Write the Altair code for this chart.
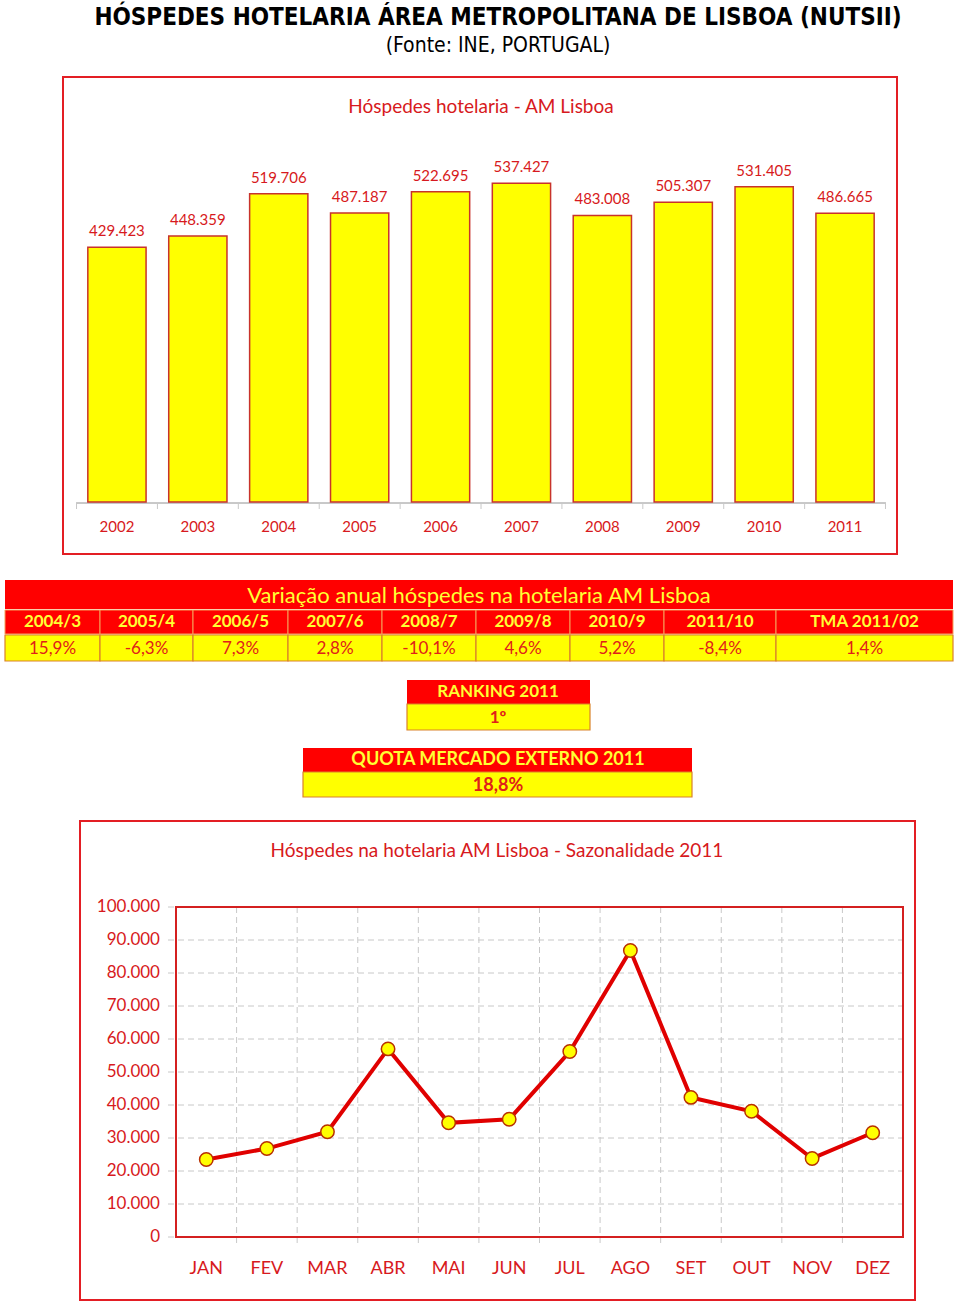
import altair as alt
import pandas as pd

# ---------------- data ----------------
years = ["2002", "2003", "2004", "2005", "2006", "2007", "2008", "2009", "2010", "2011"]
guests = [429423, 448359, 519706, 487187, 522695, 537427, 483008, 505307, 531405, 486665]

var_labels = ["2004/3", "2005/4", "2006/5", "2007/6", "2008/7", "2009/8", "2010/9", "2011/10", "TMA 2011/02"]
var_values = [15.9, -6.3, 7.3, 2.8, -10.1, 4.6, 5.2, -8.4, 1.4]

ranking_label = "RANKING 2011"
ranking_value = "1º"
quota_label = "QUOTA MERCADO EXTERNO 2011"
quota_value = 18.8

months = ["JAN", "FEV", "MAR", "ABR", "MAI", "JUN", "JUL", "AGO", "SET", "OUT", "NOV", "DEZ"]
monthly = [23500, 26800, 31900, 57000, 34600, 35700, 56200, 86800, 42300, 38100, 23800, 31600]
y_ticks = [0, 10000, 20000, 30000, 40000, 50000, 60000, 70000, 80000, 90000, 100000]

main_title = "HÓSPEDES HOTELARIA ÁREA METROPOLITANA DE LISBOA (NUTSII)"
sub_title = "(Fonte: INE, PORTUGAL)"
bar_title = "Hóspedes hotelaria - AM Lisboa"
table_title = "Variação anual hóspedes na hotelaria AM Lisboa"
line_title = "Hóspedes na hotelaria AM Lisboa - Sazonalidade 2011"

# ---------------- layout / style ----------------
col_widths = [95, 93, 95, 94, 94, 94, 94, 112, 177]
table_left = 5

FONT = "Lato"
NARROW = "Liberation Sans Narrow, DejaVu Sans Condensed, sans-serif"
RED = "#ff0000"
YELLOW = "#ffff00"
TXT_RED = "#d71920"
FRAME = "#e31e24"
CELL_BORDER = "#d9822b"
GRID = "#c8c8c8"


def fmt_int(v):
    return f"{v:,}".replace(",", ".")


def fmt_pct(v):
    return f"{v:.1f}".replace(".", ",") + "%"


one = alt.Data(values=[{"k": 1}])


def box(x0, x1, y0, y1, **kw):
    return alt.Chart(one).mark_rect(**kw).encode(
        x=alt.value(x0), x2=alt.value(x1), y=alt.value(y0), y2=alt.value(y1)
    )


def label(text, x, y, **kw):
    return alt.Chart(one).mark_text(text=text, **kw).encode(x=alt.value(x), y=alt.value(y))


layers = []

# ---------------- titles ----------------
layers.append(label(main_title, 498, 18, font=NARROW, fontSize=24, fontWeight="bold",
                    color="#000000", baseline="middle", align="center"))
layers.append(label(sub_title, 498, 46, font=NARROW, fontSize=21,
                    color="#000000", baseline="middle", align="center"))

# ---------------- bar chart ----------------
layers.append(box(63, 897, 77, 554, fillOpacity=0, stroke=FRAME, strokeWidth=2))
layers.append(label(bar_title, 481, 107, font=FONT, fontSize=19, color=TXT_RED,
                    baseline="middle", align="center"))

bar_df = pd.DataFrame({"year": years, "guests": guests, "label": [fmt_int(v) for v in guests]})
xb_scale = alt.Scale(range=[76.5, 885.5], paddingInner=0.28, paddingOuter=0.14)
yb_scale = alt.Scale(domain=[0, 600000], range=[502, 146])
xb = alt.X("year:N", sort=years, axis=None, scale=xb_scale)
yb = alt.Y("guests:Q", axis=None, scale=yb_scale)

bar_base = alt.Chart(bar_df)
bars = bar_base.mark_bar(fill=YELLOW, stroke="#c8332b", strokeWidth=1.5).encode(x=xb, y=yb)
bar_vals = bar_base.mark_text(font=FONT, fontSize=15, color=TXT_RED, baseline="alphabetic",
                              dy=-11).encode(x=xb, y=yb, text="label:N")
bar_years = bar_base.mark_text(font=FONT, fontSize=15, color=TXT_RED, baseline="middle").encode(
    x=xb, y=alt.value(527), text="year:N")
bar_axis = bar_base.mark_rule(color=GRID, strokeWidth=1).encode(
    x=alt.value(76.5), x2=alt.value(885.5), y=alt.value(503))
bar_ticks = bar_base.mark_rule(color=GRID, strokeWidth=1, xOffset=-11.3).encode(
    x=alt.X("year:N", sort=years, axis=None, scale=xb_scale, bandPosition=0),
    y=alt.value(503), y2=alt.value(509))
bar_ticks_end = alt.Chart(bar_df.tail(1)).mark_rule(color=GRID, strokeWidth=1, xOffset=11.3).encode(
    x=alt.X("year:N", sort=years, axis=None, scale=xb_scale, bandPosition=1),
    y=alt.value(503), y2=alt.value(509))
layers.append(alt.layer(bar_axis, bar_ticks, bar_ticks_end, bars, bar_vals, bar_years))

# ---------------- variation table ----------------
layers.append(box(5, 953, 580, 609, fill=RED))
layers.append(label(table_title, 479, 596, font=FONT, fontSize=22, color="#ffff33",
                    baseline="middle", align="center"))

x0s, x1s = [], []
cur = table_left
for w in col_widths:
    x0s.append(cur)
    cur += w
    x1s.append(cur)
tab_df = pd.DataFrame({
    "lab": var_labels,
    "val": [fmt_pct(v) for v in var_values],
    "x0": x0s,
    "x1": x1s,
})
tab_df["xc"] = (tab_df["x0"] + tab_df["x1"]) / 2
tx_scale = alt.Scale(domain=[0, 960], range=[0, 960])
tx0 = alt.X("x0:Q", scale=tx_scale, axis=None)
tx1 = alt.X2("x1")
txc = alt.X("xc:Q", scale=tx_scale, axis=None)
tab_base = alt.Chart(tab_df)
hdr_cells = tab_base.mark_rect(fill=RED, stroke="#f5a05a", strokeWidth=1).encode(
    x=tx0, x2=tx1, y=alt.value(610), y2=alt.value(634))
val_cells = tab_base.mark_rect(fill=YELLOW, stroke=CELL_BORDER, strokeWidth=1.2).encode(
    x=tx0, x2=tx1, y=alt.value(635), y2=alt.value(661))
hdr_text = tab_base.mark_text(font=FONT, fontSize=17, fontWeight="bold", color="#ffff33",
                              baseline="middle").encode(x=txc, y=alt.value(622), text="lab:N")
val_text = tab_base.mark_text(font=FONT, fontSize=17, color="#e0201a",
                              baseline="middle").encode(x=txc, y=alt.value(649), text="val:N")
layers.append(alt.layer(hdr_cells, val_cells, hdr_text, val_text))

# ---------------- ranking / quota ----------------
layers.append(box(407, 590, 680, 704, fill=RED))
layers.append(box(407, 590, 704, 730, fill=YELLOW, stroke=CELL_BORDER, strokeWidth=1.2))
layers.append(label(ranking_label, 498, 692, font=FONT, fontSize=17, fontWeight="bold",
                    color="#ffff33", baseline="middle", align="center"))
layers.append(label(ranking_value, 498, 718, font=FONT, fontSize=17, fontWeight="bold",
                    color="#e0201a", baseline="middle", align="center"))
layers.append(box(303, 692, 748, 772, fill=RED))
layers.append(box(303, 692, 772, 797, fill=YELLOW, stroke=CELL_BORDER, strokeWidth=1.2))
layers.append(label(quota_label, 498, 760, font=FONT, fontSize=18, fontWeight="bold",
                    color="#ffff33", baseline="middle", align="center"))
layers.append(label(fmt_pct(quota_value), 498, 786, font=FONT, fontSize=18, fontWeight="bold",
                    color="#e0201a", baseline="middle", align="center"))

# ---------------- line chart ----------------
layers.append(box(80, 915, 821, 1300, fillOpacity=0, stroke=FRAME, strokeWidth=2))
layers.append(label(line_title, 497, 851, font=FONT, fontSize=19, color=TXT_RED,
                    baseline="middle", align="center"))

line_df = pd.DataFrame({"month": months, "guests": monthly})
tick_df = pd.DataFrame({"tick": y_ticks, "tlab": [fmt_int(v) for v in y_ticks]})
vgrid_df = pd.DataFrame({"month": months[1:]})

xl_scale = alt.Scale(type="point", range=[176, 903], padding=0.5)
yl_scale = alt.Scale(domain=[0, 100000], range=[1237, 907])
xl = alt.X("month:N", sort=months, axis=None, scale=xl_scale)
yl = alt.Y("guests:Q", axis=None, scale=yl_scale)
yt = alt.Y("tick:Q", axis=None, scale=yl_scale)

hgrid = alt.Chart(tick_df).mark_rule(color=GRID, strokeWidth=1, strokeDash=[6, 4]).encode(
    x=alt.value(168), x2=alt.value(903), y=yt)
vgrid = alt.Chart(vgrid_df).mark_rule(color=GRID, strokeWidth=1, strokeDash=[6, 4],
                                      xOffset=-30.29).encode(
    x=xl, y=alt.value(907), y2=alt.value(1245))
plot_border = alt.Chart(line_df).mark_rect(fillOpacity=0, stroke="#d42020", strokeWidth=1.5).encode(
    x=alt.value(176), x2=alt.value(903), y=alt.value(907), y2=alt.value(1237))
line = alt.Chart(line_df).mark_line(color="#e00000", strokeWidth=4).encode(x=xl, y=yl)
pts = alt.Chart(line_df).mark_circle(size=180, color=YELLOW, stroke="#b83000", strokeWidth=1.5,
                                     opacity=1).encode(x=xl, y=yl)
ylabels = alt.Chart(tick_df).mark_text(font=FONT, fontSize=17, color=TXT_RED, align="right",
                                       baseline="middle").encode(x=alt.value(160), y=yt, text="tlab:N")
xlabels = alt.Chart(line_df).mark_text(font=FONT, fontSize=18, color=TXT_RED,
                                       baseline="middle").encode(x=xl, y=alt.value(1269), text="month:N")
layers.append(alt.layer(hgrid, vgrid, plot_border, line, pts, ylabels, xlabels))

chart = alt.layer(*layers).resolve_scale(x="independent", y="independent").properties(
    width=960, height=1303, padding=0, autosize=alt.AutoSizeParams(type="none"),
    background="#ffffff"
).configure_view(strokeWidth=0)

chart.save("out.html", embed_options={"renderer": "svg", "actions": False})
